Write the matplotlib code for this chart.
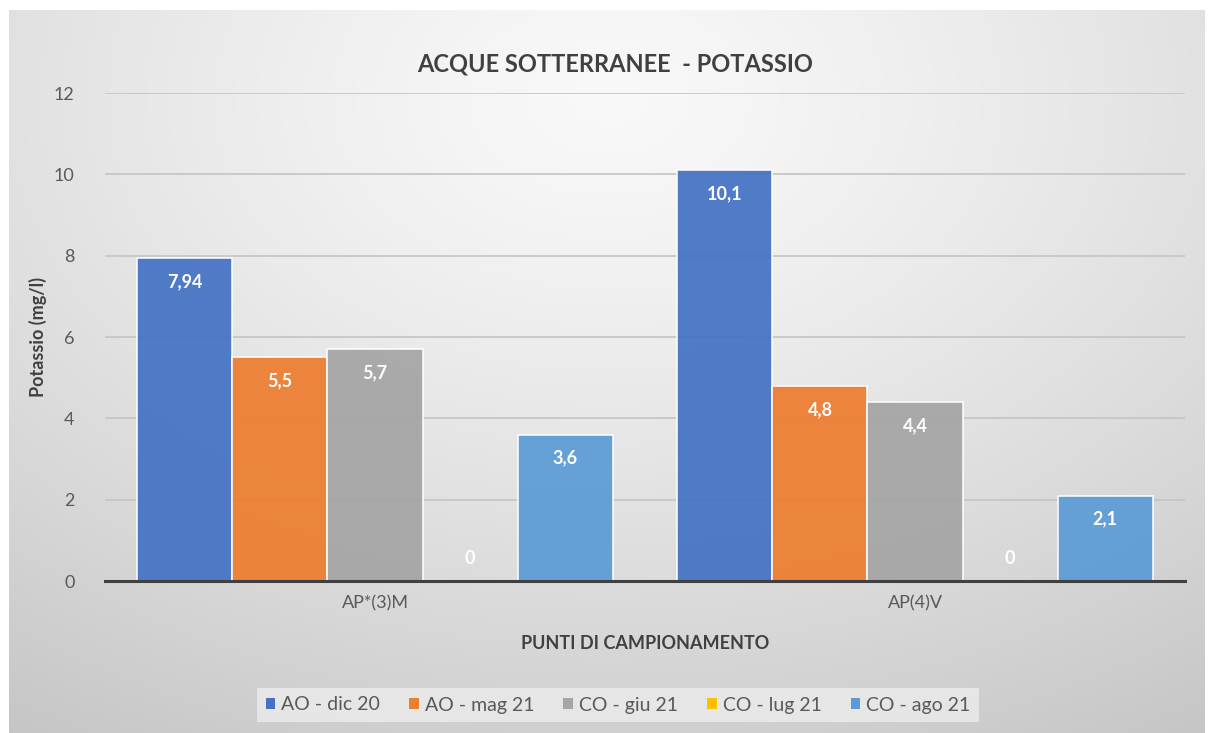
import numpy as np
import matplotlib.pyplot as plt

plt.rcParams['font.family'] = ['Lato', 'DejaVu Sans']

# Data
categories = ['AP*(3)M', 'AP(4)V']
series = ['AO - dic 20', 'AO - mag 21', 'CO - giu 21', 'CO - lug 21', 'CO - ago 21']
values = [
    [7.94, 10.1],
    [5.5, 4.8],
    [5.7, 4.4],
    [0, 0],
    [3.6, 2.1],
]
colors = ['#4472C4', '#ED7D31', '#A5A5A5', '#FFC000', '#5B9BD5']
yticks = [0, 2, 4, 6, 8, 10, 12]

fig = plt.figure(figsize=(12.1, 7.33), dpi=100)

# radial gradient background inside the chart frame
bg = fig.add_axes([9 / 1210, 0, 1196 / 1210, 1 - 10 / 733], zorder=-10)
h, w = 300, 500
yy, xx = np.mgrid[0:h, 0:w]
cx, cy = w * 0.5, h * 0.12
r = np.sqrt(((xx - cx) / w) ** 2 + ((yy - cy) / (h * 1.15)) ** 2)
r = r / r.max()
shade = 0.975 - 0.2 * r ** 1.3
bg.imshow(np.dstack([shade] * 3), aspect='auto', extent=[0, 1, 0, 1])
bg.axis('off')

ax = fig.add_axes([105 / 1210, 1 - 581 / 733, 1080 / 1210, 488 / 733])
ax.patch.set_alpha(0)

x = np.arange(len(categories))
width = 0.176
n = len(series)
for i, (name, vals, col) in enumerate(zip(series, values, colors)):
    pos = x + (i - (n - 1) / 2) * width
    bars = ax.bar(pos, vals, width, color=col, edgecolor='white', linewidth=1.2,
                  label=name, zorder=3, alpha=0.93)
    for b, v in zip(bars, vals):
        lbl = ('%g' % v).replace('.', ',')
        off = 16 if v == 0 else -17
        ax.annotate(lbl, (b.get_x() + b.get_width() / 2, v), xytext=(0, off),
                    textcoords='offset points', ha='center', va='center',
                    color='white', fontsize=13, fontweight='bold', zorder=4)

ax.set_xlim(-0.5, 1.5)
ax.set_ylim(0, 12)
ax.set_yticks(yticks)
ax.set_xticks(x)
ax.set_xticklabels(categories)
ax.grid(axis='y', color='#c4c4c4', linewidth=1.2, zorder=0)
ax.tick_params(axis='both', length=0, labelsize=13, labelcolor='#595959')
ax.tick_params(axis='y', pad=22)
ax.tick_params(axis='x', pad=10)
for s in ['top', 'right', 'left']:
    ax.spines[s].set_visible(False)
ax.spines['bottom'].set_color('#404040')
ax.spines['bottom'].set_linewidth(2.2)
ax.spines['bottom'].set_zorder(5)

ax.set_ylabel('Potassio (mg/l)', fontsize=13, fontweight='bold', color='#404040', labelpad=5)
ax.set_xlabel('PUNTI DI CAMPIONAMENTO', fontsize=13, fontweight='bold', color='#404040', labelpad=17)

fig.text(615 / 1210, 1 - 64 / 733, 'ACQUE SOTTERRANEE  - POTASSIO', ha='center', va='center',
         fontsize=17, fontweight='bold', color='#404040')

leg = ax.legend(loc='center', bbox_to_anchor=(618 / 1210, 1 - 705 / 733),
                bbox_transform=fig.transFigure, ncol=5, frameon=True, fontsize=14,
                handlelength=0.5, handleheight=0.5, handletextpad=0.3, columnspacing=1.5,
                borderpad=0.45, fancybox=False)
leg.get_frame().set_facecolor('#ececec')
leg.get_frame().set_edgecolor('none')
leg.get_frame().set_alpha(0.8)
for t in leg.get_texts():
    t.set_color('#595959')
for p in leg.legend_handles:
    p.set_alpha(1)
    p.set_edgecolor('none')

fig.savefig('out.png', dpi=100)
